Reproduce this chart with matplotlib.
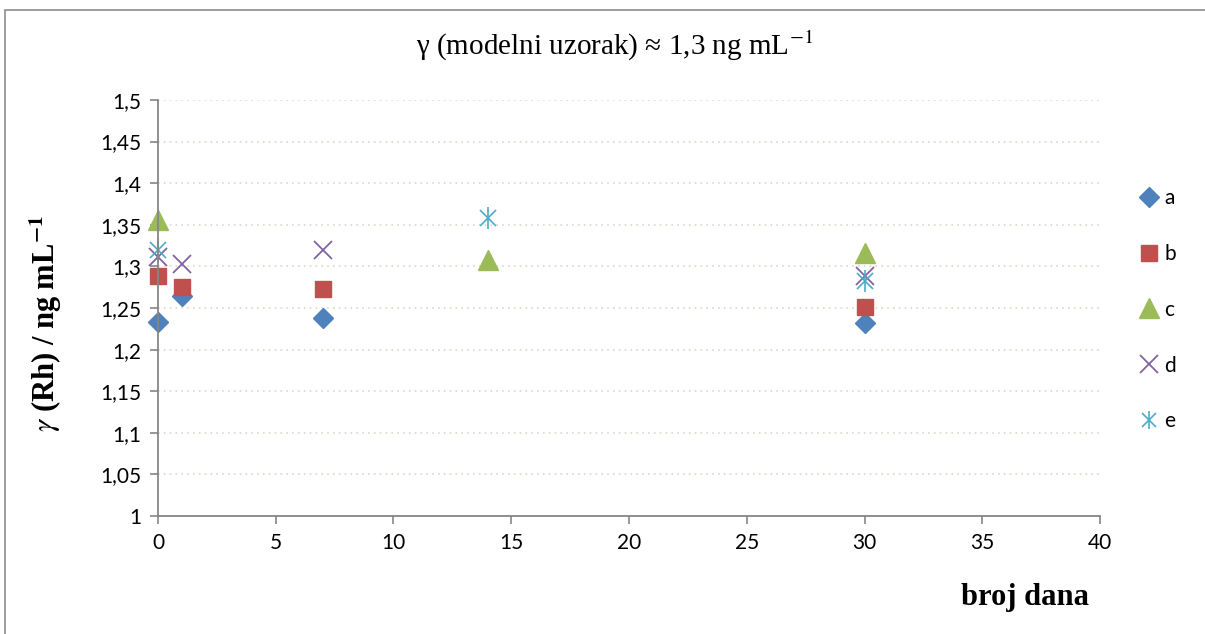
import matplotlib.pyplot as plt
import matplotlib.patches as patches
from matplotlib.ticker import FuncFormatter, MultipleLocator
from matplotlib.legend_handler import HandlerTuple

plt.switch_backend('Agg')
plt.rcParams['mathtext.fontset'] = 'stix'

# podaci (dan, koncentracija)
dani_a = [0, 1, 7, 30]
vrij_a = [1.233, 1.264, 1.238, 1.232]
dani_b = [0, 1, 7, 30]
vrij_b = [1.288, 1.275, 1.273, 1.251]
dani_c = [0, 14, 30]
vrij_c = [1.356, 1.308, 1.316]
dani_d = [0, 1, 7, 30]
vrij_d = [1.311, 1.303, 1.320, 1.288]
dani_e = [0, 14, 30]
vrij_e = [1.320, 1.358, 1.283]

serije = [
    ('a', dani_a, vrij_a, 'D', '#4F81BD', 10),
    ('b', dani_b, vrij_b, 's', '#C0504D', 12),
    ('c', dani_c, vrij_c, '^', '#9BBB59', 14),
    ('d', dani_d, vrij_d, 'x', '#8064A2', 13),
    ('e', dani_e, vrij_e, '*', '#4BACC6', 16),
]

fig = plt.figure(figsize=(12.05, 6.34), dpi=100)
ax = fig.add_axes([0.1311, 0.1861, 0.9129 - 0.1311, 0.8423 - 0.1861])

# okvir oko grafa
fig.patches.append(patches.Rectangle((0.004, -0.01), 1.0, 0.995, transform=fig.transFigure,
                                     fill=False, edgecolor='#8c8c8c', lw=1.2))

handles = []
for naziv, x, y, mk, boja, ms in serije:
    if mk == '*':
        # zvjezdica: x + okomita crta
        ax.plot(x, y, linestyle='none', marker='x', color=boja, ms=12, mew=1.2, clip_on=False)
        ax.plot(x, y, linestyle='none', marker='|', color=boja, ms=16, mew=1.2, clip_on=False)
        h = (ax.plot([], [], linestyle='none', marker='x', color=boja, ms=10, mew=1.2)[0],
             ax.plot([], [], linestyle='none', marker='|', color=boja, ms=13, mew=1.2)[0])
    elif mk == 'x':
        h, = ax.plot(x, y, linestyle='none', marker='x', color=boja, ms=ms, mew=1.3, clip_on=False)
    else:
        h, = ax.plot(x, y, linestyle='none', marker=mk, color=boja, ms=ms, mec=boja, clip_on=False)
    handles.append(h)

ax.set_xlim(0, 40)
ax.set_ylim(1, 1.5)
ax.xaxis.set_major_locator(MultipleLocator(5))
ax.yaxis.set_major_locator(MultipleLocator(0.05))
ax.yaxis.set_major_formatter(FuncFormatter(lambda v, p: f"{v:.2f}".rstrip('0').rstrip('.').replace('.', ',')))

ax.grid(axis='y', linestyle=(0, (1, 2.5)), color='#d9d9c8', lw=1.2)
ax.set_axisbelow(True)
for s in ['top', 'right']:
    ax.spines[s].set_visible(False)
for s in ['left', 'bottom']:
    ax.spines[s].set_color('#868686')
    ax.spines[s].set_linewidth(1.3)
ax.tick_params(direction='out', length=6, color='#868686', width=1.2, labelsize=15, pad=6)
for lbl in ax.get_xticklabels() + ax.get_yticklabels():
    lbl.set_fontfamily('Lato')

fig.text(0.51, 0.928, 'γ (modelni uzorak) ≈ 1,3 ng mL$^{-1}$', ha='center', va='center',
         fontsize=21, family='Liberation Serif')
fig.text(0.038, 0.49, r'$\mathit{\gamma}$ (Rh) / ng mL$^{\mathbf{-1}}$', rotation=90, ha='center', va='center',
         fontsize=22, family='Liberation Serif', fontweight='bold')
fig.text(0.851, 0.058, 'broj dana', ha='center', va='center',
         fontsize=22, family='Liberation Serif', fontweight='bold')

leg = fig.legend(handles, ['a', 'b', 'c', 'd', 'e'], loc='upper left', bbox_to_anchor=(0.930, 0.733),
                 frameon=False, labelspacing=1.72, handlelength=0.9, handletextpad=0.3,
                 prop={'family': 'Lato', 'size': 15}, handler_map={tuple: HandlerTuple(ndivide=1)})

fig.savefig('out.png', dpi=100)
